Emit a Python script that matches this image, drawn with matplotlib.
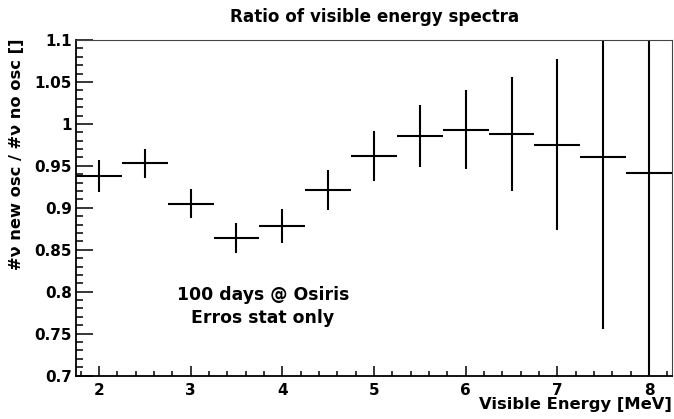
import numpy as np
import matplotlib
matplotlib.use("Agg")
import matplotlib.pyplot as plt
from matplotlib.ticker import MultipleLocator

# bin centres (MeV), ratio and stat errors
energy = [2.0, 2.5, 3.0, 3.5, 4.0, 4.5, 5.0, 5.5, 6.0, 6.5, 7.0, 7.5, 8.0]
ratio = [0.938, 0.953, 0.905, 0.864, 0.878, 0.921, 0.962, 0.986, 0.993, 0.988, 0.975, 0.960, 0.941]
err = [0.019, 0.017, 0.017, 0.018, 0.020, 0.024, 0.030, 0.037, 0.047, 0.068, 0.102, 0.204, 0.30]
half_width = 0.25

plt.rcParams['font.family'] = ['DejaVu Sans']
plt.rcParams['font.weight'] = 'bold'

fig = plt.figure(figsize=(6.74, 4.19), dpi=100)
ax = fig.add_axes([76 / 674, 1 - 375.6 / 419, (672 - 76) / 674, (375.6 - 40) / 419])

ax.errorbar(energy, ratio, xerr=half_width, yerr=err, fmt='none',
            ecolor='black', elinewidth=1.5, capsize=0)

ax.set_xlim(1.75, 8.25)
ax.set_ylim(0.7, 1.1)

# root-like ticks: inside, only left and bottom
ax.xaxis.set_major_locator(MultipleLocator(1))
ax.xaxis.set_minor_locator(MultipleLocator(0.2))
ax.yaxis.set_major_locator(MultipleLocator(0.05))
ax.yaxis.set_minor_locator(MultipleLocator(0.01))
ax.tick_params(axis='x', which='major', direction='in', length=7.2, width=1.1, pad=5, labelsize=11)
ax.tick_params(axis='x', which='minor', direction='in', length=3.6, width=1.1)
ax.tick_params(axis='y', which='major', direction='in', length=12, width=1.1, pad=3, labelsize=11)
ax.tick_params(axis='y', which='minor', direction='in', length=5.3, width=1.1)
ax.set_yticks([0.7, 0.75, 0.8, 0.85, 0.9, 0.95, 1.0, 1.05, 1.1])
ax.set_yticklabels(['0.7', '0.75', '0.8', '0.85', '0.9', '0.95', '1', '1.05', '1.1'])

for s in ['left', 'bottom']:
    ax.spines[s].set_linewidth(1.3)
for s in ['top', 'right']:
    ax.spines[s].set_linewidth(0.8)
    ax.spines[s].set_color('#444444')

# labels
fig.text(375 / 674, 1 - 21.7 / 419, 'Ratio of visible energy spectra',
         ha='center', va='baseline', fontsize=12.1, fontweight='bold')
fig.text(672 / 674, 1 - 408.5 / 419, 'Visible Energy [MeV]',
         ha='right', va='baseline', fontsize=11.8, fontweight='bold')
fig.text(17 / 674, 1 - 38 / 419, '#ν new osc / #ν no osc []',
         ha='center', va='top', rotation=90, fontsize=11.7, fontweight='bold')

ax.text(3.79, 0.782, '100 days @ Osiris\nErros stat only', ha='center', va='center',
        fontsize=12.4, fontweight='bold', linespacing=1.35)

fig.savefig('out.png', dpi=100)
